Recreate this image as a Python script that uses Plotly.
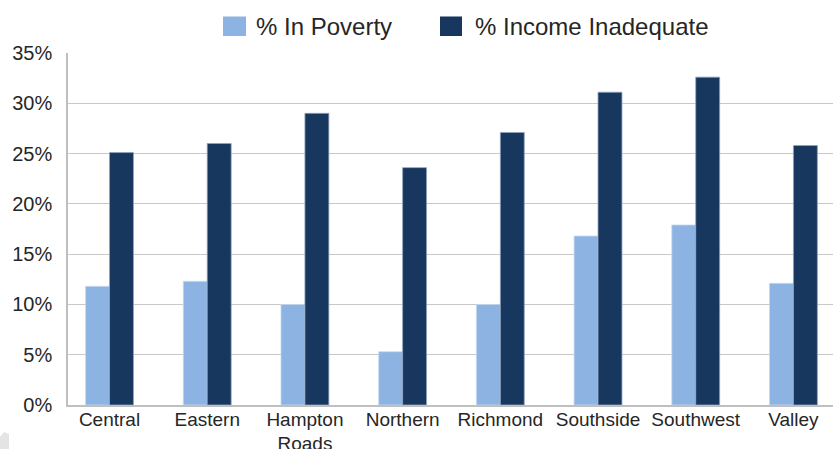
import plotly.graph_objects as go

categories = ["Central", "Eastern", "Hampton<br>Roads", "Northern", "Richmond",
              "Southside", "Southwest", "Valley"]
poverty = [11.8, 12.3, 10.0, 5.3, 10.0, 16.8, 17.9, 12.1]
inadequate = [25.1, 26.0, 29.0, 23.6, 27.1, 31.1, 32.6, 25.8]
series_names = ["% In Poverty", "% Income Inadequate"]
series_colors = ["#8DB3E2", "#17375E"]
y_ticks = [0, 5, 10, 15, 20, 25, 30, 35]
y_ticktext = [f"{v}%" for v in y_ticks]

W, H = 833, 449
L, R, T, B = 68, 0, 53, 44
PW, PH = W - L - R, H - T - B

def px_x(px):
    return (px - L) / PW

def px_y(py):
    return (H - B - py) / PH

FONT = "Liberation Sans, Arial, sans-serif"
TXT = "#262626"

fig = go.Figure()
fig.add_trace(go.Bar(x=list(range(len(categories))), y=poverty, name=series_names[0],
                     marker=dict(color=series_colors[0], line=dict(color="#C6D9F1", width=0.8))))
fig.add_trace(go.Bar(x=list(range(len(categories))), y=inadequate, name=series_names[1],
                     marker=dict(color=series_colors[1], line=dict(color="#8FA3BF", width=0.8))))

shapes = []
annotations = []
# manual legend
leg = [(223, 246, 254), (440, 462, 473)]
for (x0, x1, tx), name, col in zip(leg, series_names, series_colors):
    shapes.append(dict(type="rect", xref="paper", yref="paper",
                       x0=px_x(x0), x1=px_x(x1), y0=px_y(36), y1=px_y(16.5),
                       fillcolor=col, line=dict(width=0)))
    annotations.append(dict(xref="paper", yref="paper", x=px_x(tx), y=px_y(27),
                            xanchor="left", yanchor="middle", showarrow=False,
                            text=name, font=dict(family=FONT, size=24, color=TXT)))

# faint logo fragment bottom-left
pts = [(0, 437), (4, 432), (9, 434), (9, 449), (0, 449)]
path = "M " + " L ".join(f"{px_x(a):.4f},{px_y(b):.4f}" for a, b in pts) + " Z"
shapes.append(dict(type="path", xref="paper", yref="paper", path=path,
                   fillcolor="#E4E4E4", line=dict(width=0), layer="below"))

fig.update_layout(
    width=W, height=H,
    margin=dict(l=L, r=R, t=T, b=B, pad=0, autoexpand=False),
    paper_bgcolor="white", plot_bgcolor="white",
    barmode="group", bargap=0.51, bargroupgap=0,
    showlegend=False,
    shapes=shapes, annotations=annotations,
    font=dict(family=FONT, size=19, color=TXT),
)
fig.update_xaxes(
    automargin=False,
    range=[-0.425, 7.405],
    tickmode="array", tickvals=list(range(len(categories))), ticktext=categories,
    showgrid=False, zeroline=False,
    showline=True, linecolor="#BFBFBF", linewidth=1.5,
    ticks="", ticklabelstandoff=-4,
    tickfont=dict(family=FONT, size=19, color=TXT),
)
fig.update_yaxes(
    automargin=False,
    range=[0, 35], tickmode="array", tickvals=y_ticks, ticktext=y_ticktext,
    showgrid=True, gridcolor="#C8C8C8", gridwidth=1,
    zeroline=False, showline=True, linecolor="#BFBFBF", linewidth=1.5,
    ticks="", ticklabelstandoff=10,
    tickfont=dict(family=FONT, size=20, color=TXT),
)

fig.write_html("out.html", config={"displayModeBar": False},
               post_script="document.body.style.margin='0';document.body.style.overflow='hidden';")
